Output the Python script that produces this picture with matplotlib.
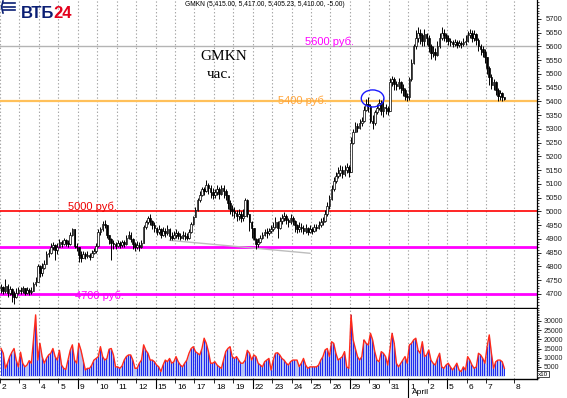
import numpy as np
import matplotlib.pyplot as plt
import matplotlib.transforms as mtransforms
from matplotlib.patches import Ellipse
from matplotlib.lines import Line2D
from matplotlib.ticker import MultipleLocator

plt.rcParams['font.family'] = ['Liberation Sans', 'DejaVu Sans']

# trading days shown on the x axis (March / April), 9 hourly bars per day
day_labels = ['2', '3', '4', '5', '9', '10', '11', '12', '15', '16', '17', '18', '19',
              '22', '23', '24', '25', '26', '29', '30', '31', '1', '2', '5', '6', '7']
next_day_label = '8'
week_starts = [4, 8, 13, 18, 23]   # index of first day in a new week
april_start = 21
bars_per_day = 9

# hourly closes
closes = [
    4725, 4712, 4730, 4705, 4718, 4700, 4690, 4705, 4715,
    4712, 4720, 4705, 4715, 4708, 4712, 4735, 4745, 4800,
    4775, 4795, 4810, 4845, 4850, 4870, 4878, 4860, 4870,
    4890, 4880, 4895, 4885, 4880, 4915, 4935, 4875, 4870,
    4840, 4830, 4845, 4838, 4842, 4835, 4848, 4855, 4875,
    4925, 4935, 4955, 4950, 4915, 4900, 4885, 4880, 4875,
    4885, 4878, 4890, 4880, 4905, 4915, 4900, 4880, 4870,
    4878, 4870, 4885, 4945, 4960, 4975, 4965, 4950, 4940,
    4925, 4935, 4915, 4930, 4920, 4935, 4910, 4905, 4915,
    4920, 4910, 4905, 4915, 4910, 4905, 4925, 4955, 4980,
    5005, 5040, 5060, 5080, 5075, 5095, 5085, 5070, 5060,
    5070, 5080, 5065, 5085, 5075, 5060, 5030, 5010, 5000,
    4995, 4985, 4990, 4975, 4985, 5040, 4990, 4960, 4940,
    4900, 4880, 4890, 4905, 4915, 4925, 4920, 4930, 4935,
    4945, 4960, 4940, 4965, 4975, 4985, 4970, 4960, 4975,
    4965, 4950, 4935, 4945, 4940, 4930, 4940, 4925, 4935,
    4930, 4945, 4940, 4950, 4960, 4965, 4990, 5020, 5045,
    5080, 5110, 5130, 5140, 5150, 5135, 5150, 5160, 5145,
    5250, 5290, 5310, 5305, 5320, 5330, 5370, 5390, 5385,
    5330, 5320, 5360, 5375, 5395, 5365, 5380, 5375, 5365,
    5470, 5480, 5465, 5455, 5470, 5450, 5440, 5420, 5415,
    5480, 5540, 5600, 5630, 5650, 5640, 5620, 5645, 5630,
    5600, 5575, 5580, 5570, 5600, 5630, 5650, 5640, 5630,
    5620, 5615, 5610, 5615, 5605, 5612, 5608, 5615, 5620,
    5640, 5650, 5630, 5645, 5625, 5600, 5590, 5580, 5560,
    5520, 5490, 5460, 5470, 5440, 5420, 5430, 5415, 5410,
]
first_open = 4720

highs = [
    4738, 4730, 4755, 4735, 4730, 4722, 4710, 4720, 4725,
    4725, 4730, 4722, 4725, 4720, 4725, 4745, 4760, 4810,
    4805, 4812, 4825, 4855, 4862, 4885, 4890, 4880, 4885,
    4900, 4895, 4905, 4900, 4895, 4925, 4940, 4938, 4885,
    4870, 4855, 4858, 4852, 4855, 4850, 4860, 4868, 4885,
    4935, 4945, 4965, 4968, 4952, 4915, 4905, 4895, 4890,
    4895, 4892, 4898, 4895, 4915, 4928, 4925, 4905, 4890,
    4892, 4888, 4898, 4950, 4970, 4985, 4990, 4970, 4960,
    4945, 4950, 4940, 4945, 4940, 4950, 4940, 4925, 4930,
    4935, 4928, 4920, 4930, 4925, 4920, 4935, 4960, 4985,
    5015, 5050, 5075, 5090, 5090, 5115, 5105, 5095, 5085,
    5080, 5095, 5090, 5098, 5095, 5080, 5060, 5040, 5025,
    5015, 5005, 5010, 5000, 5010, 5050, 5045, 4985, 4965,
    4935, 4905, 4905, 4915, 4925, 4935, 4940, 4940, 4950,
    4960, 4980, 4965, 4980, 4990, 4998, 4990, 4975, 4990,
    4985, 4970, 4955, 4960, 4958, 4950, 4955, 4945, 4950,
    4945, 4955, 4955, 4965, 4975, 4980, 5005, 5035, 5060,
    5095, 5125, 5145, 5160, 5170, 5165, 5170, 5178, 5170,
    5270, 5300, 5325, 5320, 5335, 5345, 5385, 5410, 5415,
    5390, 5350, 5370, 5390, 5410, 5405, 5412, 5390, 5385,
    5485, 5492, 5488, 5475, 5485, 5475, 5462, 5450, 5430,
    5490, 5555, 5610, 5660, 5670, 5665, 5650, 5665, 5650,
    5640, 5610, 5600, 5595, 5620, 5650, 5670, 5665, 5650,
    5640, 5632, 5625, 5628, 5622, 5625, 5620, 5630, 5640,
    5655, 5665, 5660, 5660, 5650, 5630, 5610, 5600, 5590,
    5560, 5530, 5500, 5480, 5475, 5450, 5440, 5435, 5417,
]

lows = [
    4705, 4700, 4705, 4690, 4695, 4670, 4665, 4685, 4700,
    4700, 4705, 4695, 4700, 4695, 4700, 4710, 4730, 4742,
    4760, 4765, 4790, 4810, 4835, 4845, 4860, 4825, 4845,
    4870, 4872, 4878, 4875, 4870, 4878, 4910, 4868, 4855,
    4815, 4818, 4830, 4828, 4832, 4825, 4838, 4845, 4850,
    4870, 4915, 4930, 4940, 4905, 4880, 4825, 4865, 4865,
    4870, 4868, 4872, 4870, 4878, 4900, 4888, 4862, 4858,
    4862, 4858, 4868, 4885, 4935, 4955, 4950, 4935, 4925,
    4915, 4918, 4905, 4910, 4908, 4915, 4895, 4895, 4900,
    4905, 4900, 4895, 4900, 4898, 4898, 4900, 4920, 4950,
    4985, 5000, 5035, 5055, 5060, 5070, 5065, 5050, 5045,
    5050, 5060, 5045, 5060, 5050, 5040, 5010, 4990, 4985,
    4975, 4965, 4970, 4960, 4965, 4990, 4980, 4930, 4905,
    4895, 4865, 4870, 4885, 4900, 4910, 4905, 4915, 4920,
    4930, 4940, 4905, 4935, 4955, 4965, 4955, 4945, 4955,
    4950, 4925, 4920, 4925, 4925, 4918, 4922, 4915, 4920,
    4918, 4925, 4928, 4935, 4945, 4950, 4960, 4985, 5010,
    5040, 5075, 5105, 5120, 5130, 5120, 5128, 5140, 5125,
    5170, 5245, 5290, 5290, 5300, 5310, 5325, 5365, 5360,
    5320, 5300, 5315, 5355, 5370, 5350, 5345, 5355, 5350,
    5390, 5455, 5440, 5440, 5445, 5430, 5420, 5405, 5400,
    5405, 5475, 5535, 5590, 5615, 5610, 5600, 5600, 5605,
    5580, 5555, 5560, 5550, 5565, 5595, 5625, 5620, 5615,
    5605, 5600, 5598, 5600, 5595, 5598, 5595, 5600, 5605,
    5615, 5630, 5615, 5620, 5605, 5585, 5570, 5560, 5540,
    5500, 5460, 5445, 5440, 5425, 5400, 5405, 5400, 5405.23,
]

# hourly volume, thousands
volume_k = [
    15.0, 12.4, 4.2, 7.0, 10.6, 13.0, 15.0, 8.7, 5.0,
    13.0, 7.0, 5.0, 6.0, 8.4, 7.0, 19.7, 33.3, 8.7,
    17.8, 10.6, 7.0, 9.6, 11.5, 12.4, 15.0, 10.6, 8.7,
    14.0, 6.0, 4.2, 3.6, 8.7, 14.0, 17.0, 8.7, 7.0,
    17.8, 14.0, 8.7, 3.3, 4.2, 4.2, 6.0, 8.7, 9.6,
    10.6, 16.0, 10.6, 8.7, 9.6, 14.6, 15.0, 11.5, 5.0,
    5.0, 4.2, 5.5, 8.7, 10.6, 11.5, 11.5, 8.7, 4.2,
    4.2, 7.0, 8.7, 17.0, 14.0, 12.4, 8.7, 8.7, 7.8,
    6.0, 5.0, 2.4, 6.0, 8.7, 7.8, 9.6, 7.0, 7.8,
    10.6, 7.8, 6.0, 5.0, 7.0, 8.7, 12.4, 15.0, 16.0,
    13.3, 12.4, 11.5, 15.0, 20.6, 17.8, 13.3, 7.0, 7.0,
    7.8, 6.0, 5.0, 4.2, 8.7, 13.3, 15.0, 16.0, 10.6,
    9.6, 10.6, 8.7, 7.0, 7.0, 8.7, 14.0, 12.4, 8.7,
    11.5, 10.6, 7.0, 6.0, 5.0, 7.8, 8.7, 9.6, 3.3,
    8.7, 12.4, 12.7, 11.5, 9.6, 8.7, 7.0, 6.0, 7.8,
    8.7, 8.7, 8.7, 5.1, 7.0, 9.6, 6.0, 4.2, 5.0,
    5.0, 5.0, 5.0, 6.0, 8.7, 10.6, 14.2, 15.0, 10.6,
    18.7, 17.8, 12.4, 8.7, 9.6, 10.6, 13.3, 5.0, 4.2,
    33.3, 19.7, 15.0, 10.6, 8.7, 10.6, 19.7, 17.8, 16.9,
    23.3, 19.7, 13.3, 8.7, 7.8, 13.3, 12.4, 10.6, 6.0,
    14.2, 23.3, 17.8, 7.0, 5.0, 6.9, 8.7, 10.6, 7.0,
    16.9, 17.8, 19.7, 20.6, 14.2, 12.4, 18.7, 10.6, 11.5,
    14.2, 8.7, 7.0, 6.0, 9.6, 12.4, 5.0, 4.2, 6.0,
    7.0, 5.0, 3.3, 5.0, 7.0, 3.3, 2.4, 5.0, 3.3,
    10.6, 8.7, 6.0, 4.2, 5.0, 12.4, 11.5, 9.6, 7.0,
    16.0, 22.4, 12.4, 4.2, 7.8, 8.7, 8.7, 7.8, 4.2,
]

levels = [5600, 5400, 5000, 4870, 4700]
level_colors = ['#b4b4b4', '#ffc05a', '#ff0000', '#ff00ff', '#ff00ff']
level_widths = [1.0, 1.6, 1.2, 2.0, 2.0]

header = 'GMKN (5,415.00, 5,417.00, 5,405.23, 5,410.00, -5.00)'

# ---------------------------------------------------------------
W, H = 567, 398
c = np.array(closes, dtype=float)
o = np.concatenate([[first_open], c[:-1]])
hi = np.maximum(np.array(highs, dtype=float), np.maximum(o, c))
lo = np.minimum(np.array(lows, dtype=float), np.minimum(o, c))
vol = np.array(volume_k) * 1000
n = len(c)
x = np.arange(n)

fig = plt.figure(figsize=(W / 100, H / 100), dpi=100)
ax = fig.add_axes([0, 1 - 308 / H, 537 / W, 308 / H])
axv = fig.add_axes([0, 1 - 379 / H, 537 / W, 70 / H])

xmin, xmax = -0.5, 248.1
ax.set_xlim(xmin, xmax)
axv.set_xlim(xmin, xmax)
ax.set_ylim(4649, 5769)
axv.set_ylim(-1600, 36500)

day_pos = [d * bars_per_day - 0.5 for d in range(len(day_labels))]
day_pos.append(n + 3.5)
tick_labels = day_labels + [next_day_label]

for a in (ax, axv):
    for p in day_pos:
        a.axvline(p, color='#a4a4a4', ls=(0, (1.2, 2)), lw=0.8, zorder=0)
    a.spines['top'].set_visible(False)
    a.spines['left'].set_visible(False)
    a.spines['right'].set_linewidth(0.9)
    a.spines['bottom'].set_linewidth(1.0)
    a.yaxis.tick_right()
    a.tick_params(axis='y', which='major', length=3, width=0.6, labelsize=5.5,
                  pad=3.5, labelcolor='#222222')
    a.tick_params(axis='y', which='minor', length=1.5, width=0.5)
axv.tick_params(axis='y', which='major', labelsize=5, pad=2)

# level lines
for lv, col, lw in zip(levels, level_colors, level_widths):
    ax.axhline(lv, color=col, lw=lw, zorder=1)

# trend line and circle
ax.plot([78, 143], [4895, 4848], color='#bdbdbd', lw=1, zorder=1)
ax.add_patch(Ellipse((172, 5411), width=10.5, height=62, fill=False,
                     edgecolor='#1a1aff', lw=1, zorder=4))

# candles
ax.vlines(x, lo, hi, color='black', lw=0.7, zorder=2)
up = c >= o
body = np.abs(c - o)
body = np.where(body < 2, 2, body)
ax.bar(x[up], body[up], bottom=o[up], width=0.75, color='white',
       edgecolor='black', lw=0.5, zorder=3)
ax.bar(x[~up], body[~up], bottom=c[~up], width=0.75, color='black',
       edgecolor='black', lw=0.5, zorder=3)

ax.set_yticks(np.arange(4700, 5701, 50))
ax.yaxis.set_minor_locator(MultipleLocator(10))
ax.set_xticks([])

# volume
axv.fill_between(x, 0, vol, color='#a9b8f4', alpha=0.85, lw=0, zorder=1)
axv.bar(x, vol, width=0.45, color='#1f2cf0', zorder=2)
axv.plot(x, vol, color='#ff2a1a', lw=1.0, zorder=3)
axv.set_yticks(np.arange(5000, 30001, 5000))
axv.yaxis.set_minor_locator(MultipleLocator(1000))

axv.set_xticks(day_pos)
axv.set_xticklabels(tick_labels)
axv.tick_params(axis='x', length=3, width=0.6, labelsize=6, pad=0.5)
shift = mtransforms.ScaledTranslation(2 / 100, 0, fig.dpi_scale_trans)
for lbl in axv.get_xticklabels():
    lbl.set_horizontalalignment('left')
    lbl.set_transform(lbl.get_transform() + shift)

trans = mtransforms.blended_transform_factory(axv.transData, axv.transAxes)
for w in week_starts:
    axv.plot([day_pos[w]] * 2, [-0.13, 0], color='black', lw=0.8,
             transform=trans, clip_on=False)
axv.plot([day_pos[april_start]] * 2, [-0.28, 0], color='black', lw=0.8,
         transform=trans, clip_on=False)
fig.text((day_pos[april_start] + 1.5) * 2.16 / W + 0.002, 1 - 393 / H, 'April',
         fontsize=6, va='center')
fig.text(538 / W, 1 - 374 / H, 'x10', fontsize=4.5, va='center',
         bbox=dict(boxstyle='square,pad=0.1', fc='white', ec='black', lw=0.5))


def px(xp, yp):
    return xp / W, 1 - yp / H


# level captions
fig.text(*px(305, 42), '5600 руб.', color='#ff00ff', fontsize=8, va='center')
fig.text(*px(278, 101), '5400 руб.', color='#ffa53c', fontsize=8, va='center')
fig.text(*px(68, 207), '5000 руб.', color='#ee0000', fontsize=8, va='center')
fig.text(*px(75, 296), '4700 руб.', color='#ff00ff', fontsize=8, va='center')

fig.text(*px(200, 57), 'GMKN', family='Liberation Serif', fontsize=11, va='center')
fig.text(*px(207, 75), 'час.', family='Liberation Serif', fontsize=11, va='center')
fig.text(*px(185, 5), header, fontsize=4.8, va='center')

# logo
fig.text(*px(21, 13), 'ВТБ', color='#0b1f74', weight='bold', fontsize=12, va='center')
fig.text(*px(53, 13), '24', color='#e3001b', weight='bold', fontsize=12, va='center')
for yy in (3, 6.5, 10):
    fig.add_artist(Line2D([3 / W, 15 / W], [1 - yy / H, 1 - yy / H],
                          color='#0b1f74', lw=1.2))
fig.add_artist(Line2D([3 / W, 1.5 / W, 3 / W], [1 - 1 / H, 1 - 7 / H, 1 - 13 / H],
                      color='#0b1f74', lw=1.2))

fig.savefig('out.png', dpi=100)
